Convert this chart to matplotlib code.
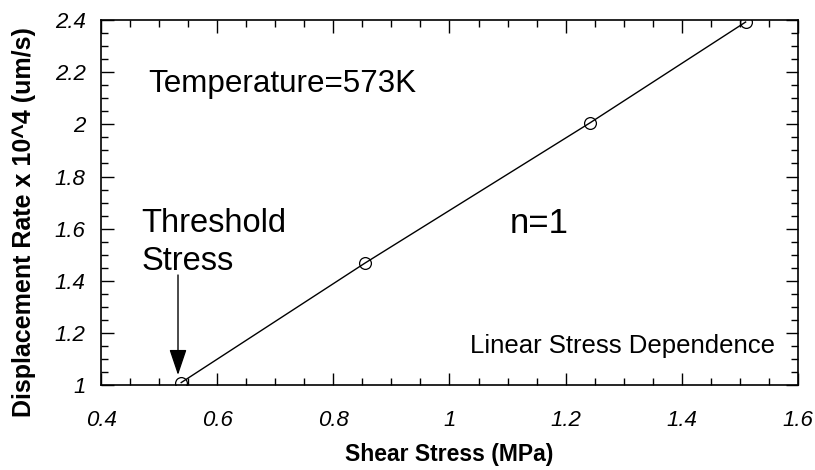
import matplotlib
matplotlib.use("Agg")
import matplotlib.pyplot as plt
from matplotlib.ticker import MultipleLocator

# data
shear_stress = [0.538, 0.854, 1.242, 1.51]
displacement_rate = [1.009, 1.467, 2.006, 2.393]

x_ticks = [0.4, 0.6, 0.8, 1.0, 1.2, 1.4, 1.6]
x_tick_labels = ["0.4", "0.6", "0.8", "1", "1.2", "1.4", "1.6"]
y_ticks = [1.0, 1.2, 1.4, 1.6, 1.8, 2.0, 2.2, 2.4]
y_tick_labels = ["1", "1.2", "1.4", "1.6", "1.8", "2", "2.2", "2.4"]

plt.rcParams["font.family"] = ["Liberation Sans", "DejaVu Sans"]

fig = plt.figure(figsize=(8.15, 4.7), dpi=100)
ax = fig.add_axes([0.124, 0.181, 0.855, 0.776])

ax.plot(shear_stress, displacement_rate, color="black", linewidth=1.0,
        marker="o", markersize=8.5, markerfacecolor="none",
        markeredgecolor="black", markeredgewidth=0.9)

ax.set_xlim(0.4, 1.6)
ax.set_ylim(1.0, 2.4)
ax.set_xticks(x_ticks)
ax.set_xticklabels(x_tick_labels, fontstyle="italic", fontsize=16)
ax.set_yticks(y_ticks)
ax.set_yticklabels(y_tick_labels, fontstyle="italic", fontsize=16)
ax.xaxis.set_minor_locator(MultipleLocator(0.05))
ax.yaxis.set_minor_locator(MultipleLocator(0.05))

ax.tick_params(which="both", direction="in", top=True, right=True, width=1.0)
ax.tick_params(which="major", length=9)
ax.tick_params(which="minor", length=5)
ax.tick_params(axis="x", which="major", pad=18)
ax.tick_params(axis="y", which="major", pad=11)
for spine in ax.spines.values():
    spine.set_linewidth(1.2)

ax.set_xlabel("Shear Stress (MPa)", fontsize=16.5, fontweight="bold", labelpad=9)
ax.set_ylabel("Displacement Rate x 10^4 (um/s)", fontsize=18, fontweight="bold")
ax.yaxis.set_label_coords(-0.093, 0.447)

ax.text(0.481, 2.124, "Temperature=573K", fontsize=22.6, va="baseline")
ax.text(0.470, 1.588, "Threshold", fontsize=23.5, va="baseline")
ax.text(0.470, 1.441, "Stress", fontsize=23.5, va="baseline")
ax.text(1.104, 1.584, "n=1", fontsize=25, va="baseline")
ax.text(1.560, 1.123, "Linear Stress Dependence", fontsize=18.5,
        va="baseline", ha="right")

ax.annotate("", xy=(0.5325, 1.038), xytext=(0.5325, 1.422),
            arrowprops=dict(arrowstyle="-|>,head_length=0.8,head_width=0.27",
                            color="black", lw=1.0, shrinkA=0, shrinkB=0,
                            mutation_scale=20))

fig.savefig("out.png", dpi=100)
